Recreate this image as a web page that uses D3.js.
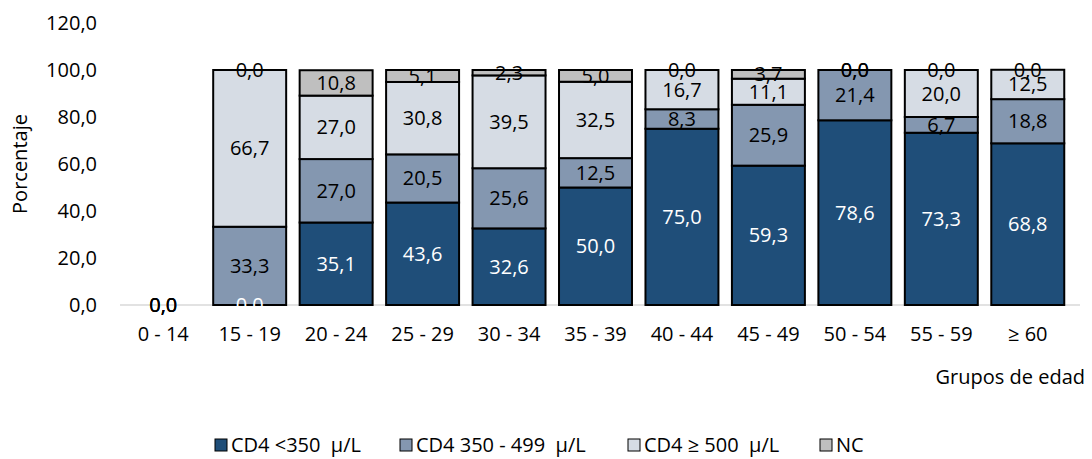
<!DOCTYPE html>
<html>
<head>
<meta charset="utf-8">
<script src="https://d3js.org/d3.v7.min.js"></script>
<style>
  body { margin: 0; background: #fff; }
  svg text { font-family: "Open Sans", "Noto Sans", sans-serif; fill: #000; }
</style>
</head>
<body>
<div id="chart"></div>
<script>
// age groups and CD4 percentages per group
var groups = ["0 - 14", "15 - 19", "20 - 24", "25 - 29", "30 - 34", "35 - 39", "40 - 44", "45 - 49", "50 - 54", "55 - 59", "\u2265 60"];
var cd4Low  = [0.0, 0.0, 35.1, 43.6, 32.6, 50.0, 75.0, 59.3, 78.6, 73.3, 68.8];
var cd4Mid  = [0.0, 33.3, 27.0, 20.5, 25.6, 12.5, 8.3, 25.9, 21.4, 6.7, 18.8];
var cd4High = [0.0, 66.7, 27.0, 30.8, 39.5, 32.5, 16.7, 11.1, 0.0, 20.0, 12.5];
var nc      = [0.0, 0.0, 10.8, 5.1, 2.3, 5.0, 0.0, 3.7, 0.0, 0.0, 0.0];
var seriesNames = ["CD4 <350  \u00b5/L", "CD4 350 - 499  \u00b5/L", "CD4 \u2265 500  \u00b5/L", "NC"];
var yTicks = [0, 20, 40, 60, 80, 100, 120];

var width = 1092, height = 459;
var fontSize = "20px";
var colors = ["#1f4e79", "#8497b0", "#d6dce4", "#bfbfbf"];
var labelColors = ["#fff", "#000", "#000", "#000"];

var svg = d3.select("#chart").append("svg")
  .attr("width", width)
  .attr("height", height);

var x = d3.scaleBand()
  .domain(groups)
  .range([120, 1071])
  .paddingInner(0.156)
  .paddingOuter(0.078);

var y = d3.scaleLinear()
  .domain([0, 120])
  .range([305, 23]);

var fmt = function(v) { return d3.format(".1f")(v).replace(".", ","); };

var rows = groups.map(function(g, i) {
  return { group: g, low: cd4Low[i], mid: cd4Mid[i], high: cd4High[i], nc: nc[i] };
});
var stack = d3.stack().keys(["low", "mid", "high", "nc"]);
var layers = stack(rows);

// y tick labels (no axis line)
var yAxis = svg.append("g")
  .attr("transform", "translate(97,0)")
  .call(d3.axisLeft(y).tickValues(yTicks).tickFormat(fmt).tickSize(0).tickPadding(0));
yAxis.select(".domain").remove();
yAxis.selectAll("text").style("font-size", fontSize).style("font-family", null);

// baseline
svg.append("line")
  .attr("x1", 120).attr("x2", 1080)
  .attr("y1", y(0)).attr("y2", y(0))
  .attr("stroke", "#d9d9d9").attr("stroke-width", 1.5);

// bars
var layerG = svg.selectAll(".layer")
  .data(layers)
  .enter().append("g")
  .attr("class", "layer")
  .attr("fill", function(d, i) { return colors[i]; });

layerG.selectAll("rect")
  .data(function(d) { return d.filter(function(s) { return s[1] - s[0] > 0; }); })
  .enter().append("rect")
  .attr("x", function(d) { return x(d.data.group); })
  .attr("width", x.bandwidth())
  .attr("y", function(d) { return y(d[1]); })
  .attr("height", function(d) { return y(d[0]) - y(d[1]); })
  .attr("stroke", "#000")
  .attr("stroke-width", 2);

// value labels
layers.forEach(function(layer, li) {
  svg.append("g").selectAll("text")
    .data(layer)
    .enter().append("text")
    .attr("x", function(d) { return x(d.data.group) + x.bandwidth() / 2; })
    .attr("y", function(d) { return (y(d[0]) + y(d[1])) / 2; })
    .attr("text-anchor", "middle")
    .attr("dy", "0.35em")
    .style("font-size", fontSize)
    .style("fill", labelColors[li])
    .text(function(d) { return fmt(d[1] - d[0]); });
});

// x tick labels
var xAxis = svg.append("g")
  .attr("transform", "translate(0," + y(0) + ")")
  .call(d3.axisBottom(x).tickSize(0));
xAxis.select(".domain").remove();
xAxis.selectAll("text")
  .attr("y", 29).attr("dy", "0.35em")
  .style("font-size", fontSize).style("font-family", null);

// axis titles
svg.append("text")
  .attr("transform", "translate(27,164) rotate(-90)")
  .attr("text-anchor", "middle")
  .style("font-size", fontSize)
  .text("Porcentaje");

svg.append("text")
  .attr("x", 1085).attr("y", 377)
  .attr("dy", "0.35em")
  .attr("text-anchor", "end")
  .style("font-size", fontSize)
  .text("Grupos de edad");

// legend
var legendX = [215, 400, 628, 820];
var legend = svg.append("g").selectAll("g")
  .data(seriesNames)
  .enter().append("g")
  .attr("transform", function(d, i) { return "translate(" + legendX[i] + ",445)"; });
legend.append("rect")
  .attr("x", 0).attr("y", -6)
  .attr("width", 12).attr("height", 12)
  .attr("fill", function(d, i) { return colors[i]; })
  .attr("stroke", "#000").attr("stroke-width", 1);
legend.append("text")
  .attr("x", 16).attr("dy", "0.35em")
  .style("font-size", fontSize)
  .style("white-space", "pre")
  .text(function(d) { return d; });
</script>
</body>
</html>
